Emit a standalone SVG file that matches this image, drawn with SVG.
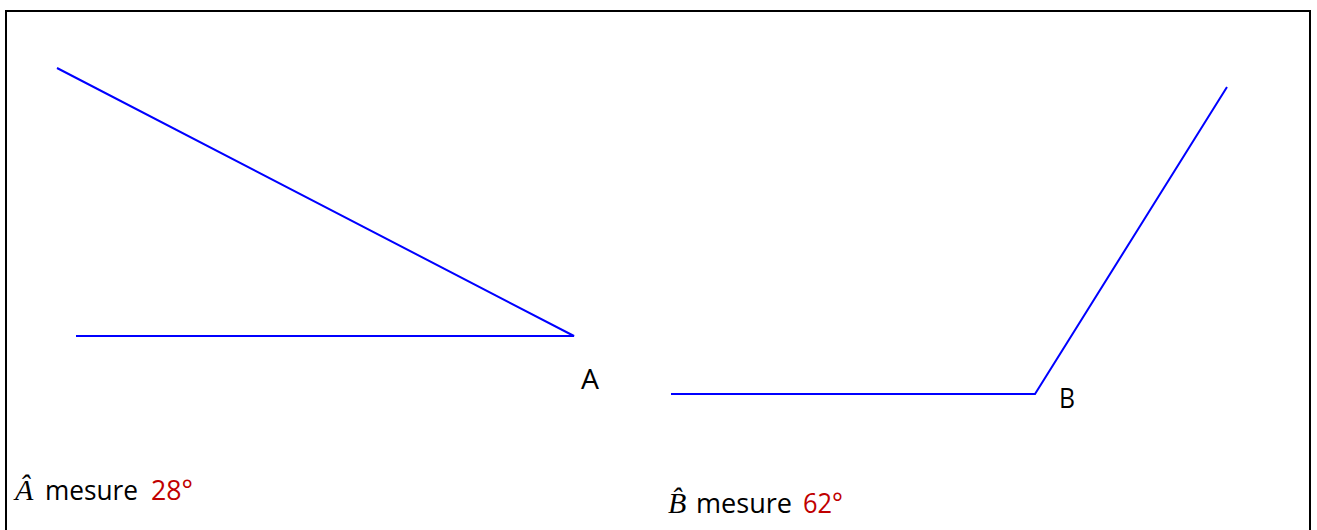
<svg xmlns="http://www.w3.org/2000/svg" width="1317" height="530" viewBox="0 0 1317 530">
<style>
.seg{stroke:#0000ff;stroke-width:2;fill:none;stroke-linejoin:miter}
.t{font-family:"Open Sans","Noto Sans",sans-serif;font-size:28px;fill:#000}
.m{font-family:"Liberation Serif",serif;font-style:italic;font-size:30px;fill:#000}
.r{fill:#c00000}
</style>
<rect width="1317" height="530" fill="#fff"/>
<rect x="6" y="11" width="1304" height="530" fill="none" stroke="#000" stroke-width="2"/>
<g id="connectors">
<polyline class="seg" points="57,68 574,336 76,336"/>
<polyline class="seg" points="671,394 1035,394 1227,87"/>
</g>
<g id="labelA"><text class="t" x="581" y="389" textLength="18" lengthAdjust="spacingAndGlyphs">A</text></g>
<g id="labelB"><text class="t" x="1059" y="408" textLength="16" lengthAdjust="spacingAndGlyphs">B</text></g>
<g id="captionA">
<text class="m" x="15" y="500">Â</text>
<text class="t" x="45" y="500" textLength="93" lengthAdjust="spacingAndGlyphs">mesure</text>
<text class="t r" x="151" y="500" textLength="42" lengthAdjust="spacingAndGlyphs">28°</text>
</g>
<g id="captionB">
<text class="m" x="668" y="513">B̂</text>
<text class="t" x="696" y="513" textLength="96" lengthAdjust="spacingAndGlyphs">mesure</text>
<text class="t r" x="803" y="513" textLength="40" lengthAdjust="spacingAndGlyphs">62°</text>
</g>
</svg>
